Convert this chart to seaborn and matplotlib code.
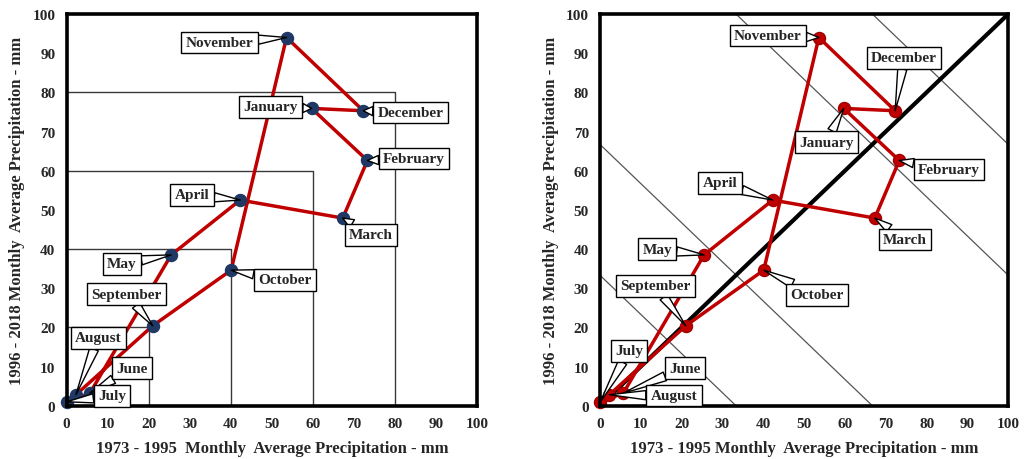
import matplotlib
matplotlib.use("Agg")
import matplotlib.pyplot as plt
import seaborn as sns
import pandas as pd

# ---------------- data ----------------
months = ["January", "February", "March", "April", "May", "June",
          "July", "August", "September", "October", "November", "December"]
precip_1973_1995 = [59.7, 73.3, 67.3, 42.3, 25.5, 5.7, 0.1, 2.3, 21.0, 40.1, 53.6, 72.3]
precip_1996_2018 = [75.9, 62.6, 47.9, 52.5, 38.5, 3.2, 1.0, 2.8, 20.4, 34.6, 94.0, 75.3]
axis_ticks = [0, 10, 20, 30, 40, 50, 60, 70, 80, 90, 100]
square_sizes = [20, 40, 60, 80]
iso_sums = [33.3, 66.7, 133.3, 166.7]
diag_line = [0, 100]

xlabel_left = "1973 - 1995  Monthly  Average Precipitation - mm"
xlabel_right = "1973 - 1995 Monthly  Average Precipitation - mm"
ylabel = "1996 - 2018 Monthly  Average Precipitation - mm"

# ---------------- layout (label box centres, data coords) ----------------
left_label_pos = {
    "November": (37.3, 92.7), "January": (49.8, 76.3), "December": (83.8, 74.9),
    "February": (84.7, 63.1), "April": (30.6, 53.8), "March": (74.2, 43.6),
    "May": (13.5, 36.2), "October": (53.2, 32.1), "September": (14.7, 28.5),
    "August": (7.8, 17.3), "June": (16.0, 9.6), "July": (11.1, 2.5),
}
right_label_pos = {
    "November": (41.1, 94.5), "December": (74.5, 88.8), "January": (55.4, 67.3),
    "February": (85.5, 60.3), "April": (29.4, 56.9), "March": (74.7, 42.4),
    "May": (14.0, 40.0), "October": (53.1, 28.3), "September": (13.5, 30.6),
    "July": (7.1, 14.0), "June": (20.9, 9.6), "August": (18.1, 2.6),
}

sns.set_theme(style="white")
plt.rcParams['font.family'] = ['Liberation Serif', 'DejaVu Serif']
plt.rcParams['font.weight'] = 'bold'
plt.rcParams['axes.labelweight'] = 'bold'

df = pd.DataFrame({"month": months, "x": precip_1973_1995, "y": precip_1996_2018})
loop = pd.concat([df, df.iloc[[0]]], ignore_index=True)

fig = plt.figure(figsize=(10.26, 4.6), dpi=100)
bottom = 1 - 406.7 / 460
height = (406.7 - 15) / 460
ax1 = fig.add_axes([66.5 / 1026, bottom, (477 - 66.5) / 1026, height])
ax2 = fig.add_axes([600 / 1026, bottom, (1008.3 - 600) / 1026, height])

RED = "#C00000"

# left panel reference squares
for s in square_sizes:
    sns.lineplot(x=[0, s, s], y=[s, s, 0], sort=False, estimator=None,
                 color="#3a3a3a", lw=1.0, ax=ax1, zorder=1)

# right panel iso lines and 1:1 line
for c in iso_sums:
    ax2.axline((0, c), slope=-1, color="#555555", lw=0.9, zorder=1)
sns.lineplot(x=diag_line, y=diag_line, color="black", lw=3, ax=ax2, zorder=2)

for ax, mcol, mec, pos in [(ax1, "#1F3864", "#1F3864", left_label_pos),
                           (ax2, RED, "#A00000", right_label_pos)]:
    sns.lineplot(data=loop, x="x", y="y", sort=False, estimator=None,
                 color=RED, lw=2.5, ax=ax, zorder=3)
    sns.scatterplot(data=df, x="x", y="y", color=mcol, edgecolor=mec, s=75,
                    linewidth=1, ax=ax, zorder=4, clip_on=False)
    for m, xv, yv in zip(months, precip_1973_1995, precip_1996_2018):
        ax.annotate(m, xy=(xv, yv), xytext=pos[m], textcoords="data",
                    ha="center", va="center", fontsize=11, fontweight="bold",
                    bbox=dict(boxstyle="square,pad=0.28", fc="white", ec="black", lw=1),
                    arrowprops=dict(arrowstyle="wedge,tail_width=0.6,shrink_factor=0.5",
                                    fc="white", ec="black", lw=1, shrinkA=0, shrinkB=0),
                    zorder=6, annotation_clip=False)
    ax.set_xlim(0, 100)
    ax.set_ylim(0, 100)
    ax.set_xticks(axis_ticks)
    ax.set_yticks(axis_ticks)
    ax.tick_params(length=0, pad=8, labelsize=11)
    for lab in ax.get_xticklabels() + ax.get_yticklabels():
        lab.set_fontweight("bold")
    for sp in ax.spines.values():
        sp.set_visible(True)
        sp.set_color("black")
        sp.set_linewidth(2.6)
        sp.set_zorder(5)
    ax.set_ylabel(ylabel, fontsize=12, fontweight="bold", labelpad=5)
    ax.grid(False)

ax1.set_xlabel(xlabel_left, fontsize=12, fontweight="bold", labelpad=7)
ax2.set_xlabel(xlabel_right, fontsize=12, fontweight="bold", labelpad=7)

fig.savefig("out.png", dpi=100)
